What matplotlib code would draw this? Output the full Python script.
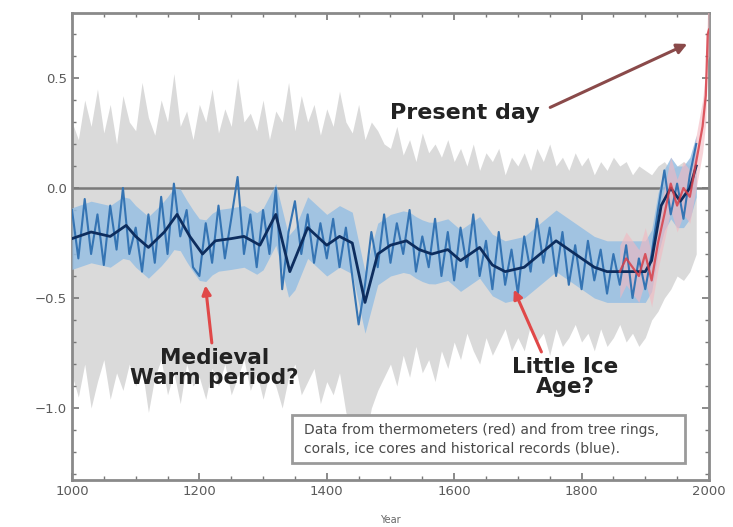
import numpy as np
import matplotlib.pyplot as plt
from matplotlib.ticker import MultipleLocator
from matplotlib.patches import Rectangle

# Reconstructed temperature anomaly (deg C)

# gray uncertainty band, every 10 years 1000-1980
band_years = np.arange(1000, 1981, 10)
gray_hi = [0.30, 0.22, 0.40, 0.28, 0.45, 0.25, 0.38, 0.20, 0.42, 0.30,
           0.26, 0.48, 0.32, 0.24, 0.40, 0.30, 0.52, 0.28, 0.35, 0.22,
           0.38, 0.30, 0.45, 0.25, 0.36, 0.28, 0.50, 0.30, 0.34, 0.26,
           0.40, 0.22, 0.35, 0.30, 0.48, 0.26, 0.42, 0.30, 0.38, 0.24,
           0.36, 0.28, 0.44, 0.30, 0.25, 0.38, 0.22, 0.30, 0.26, 0.20,
           0.18, 0.28, 0.15, 0.22, 0.12, 0.25, 0.16, 0.20, 0.14, 0.22,
           0.12, 0.18, 0.10, 0.20, 0.08, 0.16, 0.12, 0.18, 0.06, 0.14,
           0.10, 0.16, 0.08, 0.18, 0.12, 0.20, 0.10, 0.14, 0.08, 0.16,
           0.10, 0.14, 0.06, 0.12, 0.08, 0.14, 0.10, 0.12, 0.06, 0.10,
           0.08, 0.06, 0.10, 0.12, 0.08, 0.10, 0.12, 0.10, 0.14]
gray_lo = [-0.85, -0.95, -0.80, -1.00, -0.88, -0.78, -0.96, -0.84, -0.92, -0.80,
           -0.90, -0.82, -1.02, -0.86, -0.78, -0.94, -0.84, -0.98, -0.80, -0.90,
           -0.86, -0.96, -0.82, -0.90, -0.80, -0.94, -0.86, -0.78, -0.92, -0.84,
           -0.96, -0.84, -0.90, -1.00, -0.86, -0.80, -0.94, -0.88, -0.82, -0.98,
           -0.88, -0.94, -0.84, -1.02, -1.10, -1.20, -1.15, -1.00, -0.92, -0.86,
           -0.80, -0.90, -0.76, -0.86, -0.72, -0.84, -0.78, -0.88, -0.74, -0.82,
           -0.70, -0.78, -0.66, -0.74, -0.80, -0.68, -0.76, -0.70, -0.64, -0.74,
           -0.68, -0.74, -0.62, -0.70, -0.66, -0.76, -0.64, -0.72, -0.68, -0.62,
           -0.70, -0.66, -0.74, -0.64, -0.72, -0.68, -0.62, -0.70, -0.66, -0.72,
           -0.68, -0.60, -0.56, -0.50, -0.46, -0.40, -0.42, -0.38, -0.30]

# blue proxy record (annual-ish wiggles), every 10 years
blue_annual = [-0.10, -0.32, -0.05, -0.30, -0.12, -0.35, -0.08, -0.28, 0.00, -0.30,
               -0.18, -0.38, -0.12, -0.34, -0.04, -0.30, 0.02, -0.22, -0.10, -0.36,
               -0.40, -0.16, -0.34, -0.08, -0.32, -0.14, 0.05, -0.30, -0.12, -0.36,
               -0.10, -0.30, 0.00, -0.46, -0.20, -0.06, -0.30, -0.12, -0.34, -0.16,
               -0.32, -0.14, -0.36, -0.18, -0.40, -0.62, -0.44, -0.20, -0.36, -0.12,
               -0.34, -0.16, -0.30, -0.10, -0.38, -0.22, -0.36, -0.14, -0.40, -0.20,
               -0.42, -0.18, -0.36, -0.12, -0.40, -0.24, -0.46, -0.20, -0.44, -0.28,
               -0.48, -0.22, -0.38, -0.14, -0.34, -0.18, -0.40, -0.20, -0.44, -0.26,
               -0.46, -0.24, -0.42, -0.28, -0.48, -0.30, -0.44, -0.26, -0.50, -0.32,
               -0.46, -0.30, -0.10, 0.08, -0.12, 0.02, -0.14, 0.06, 0.20]

# smoothed proxy curve
smooth_years = [1000, 1030, 1060, 1085, 1100, 1120, 1145, 1165, 1185, 1205,
                1225, 1250, 1270, 1295, 1320, 1342, 1370, 1400, 1420, 1440,
                1460, 1480, 1500, 1525, 1545, 1565, 1590, 1610, 1640, 1660,
                1680, 1710, 1735, 1760, 1780, 1800, 1820, 1840, 1870, 1900,
                1910, 1925, 1940, 1955, 1970, 1980]
smooth_vals = [-0.23, -0.20, -0.22, -0.17, -0.22, -0.27, -0.20, -0.12, -0.22, -0.30,
               -0.24, -0.23, -0.22, -0.26, -0.12, -0.38, -0.18, -0.26, -0.22, -0.25,
               -0.52, -0.30, -0.26, -0.24, -0.28, -0.30, -0.28, -0.33, -0.27, -0.35,
               -0.38, -0.36, -0.30, -0.24, -0.28, -0.32, -0.36, -0.38, -0.38, -0.38,
               -0.33, -0.08, 0.00, -0.06, 0.00, 0.10]

# thermometer record (red)
red_years = [1860, 1870, 1880, 1890, 1900, 1910, 1920, 1930, 1940, 1950,
             1960, 1970, 1980, 1990, 1995, 1998, 2000]
red_vals = [-0.38, -0.32, -0.36, -0.40, -0.30, -0.42, -0.25, -0.12, 0.02, -0.08,
            0.00, -0.04, 0.12, 0.28, 0.42, 0.70, 0.72]

fig = plt.figure(figsize=(7.33, 5.27), dpi=100)
ax = fig.add_axes([0.0982, 0.0892, 0.869, 0.886])

ax.fill_between(band_years, gray_lo, gray_hi, color='#dadada', lw=0, zorder=1)
ax.axhline(0, color='#7a7a7a', lw=1.8, zorder=2)

sm = np.interp(band_years, smooth_years, smooth_vals)
ax.fill_between(band_years, sm - 0.14, sm + 0.14, color='#97bfe3', alpha=0.85, lw=0, zorder=3)
ax.plot(band_years, blue_annual, color='#3574b3', lw=1.5, zorder=4)
ax.plot(smooth_years, smooth_vals, color='#0d2d5e', lw=2.0, zorder=5)

rv = np.array(red_vals)
ax.fill_between(red_years, rv - 0.12, rv + 0.12, color='#f3b8c0', alpha=0.6, lw=0, zorder=3)
ax.plot(red_years, red_vals, color='#d8404a', lw=1.6, alpha=0.85, zorder=6)

# annotations
ax.annotate('Present day', xy=(1970, 0.66), xytext=(1617, 0.34),
            ha='center', va='center', fontsize=16, fontweight='bold', color='#222222',
            arrowprops=dict(arrowstyle='-|>', color='#8a4a4a', lw=2.2, mutation_scale=15,
                            relpos=(1.0, 0.55), shrinkA=6), zorder=8)
ax.annotate('Medieval\nWarm period?', xy=(1209, -0.43), xytext=(1224, -0.82),
            ha='center', va='center', fontsize=15.5, fontweight='bold', color='#222222',
            linespacing=1.0,
            arrowprops=dict(arrowstyle='-|>', color='#e04848', lw=2.2, mutation_scale=13,
                            shrinkA=2), zorder=8)
ax.annotate('Little Ice\nAge?', xy=(1692, -0.45), xytext=(1774, -0.86),
            ha='center', va='center', fontsize=15.5, fontweight='bold', color='#222222',
            linespacing=1.0,
            arrowprops=dict(arrowstyle='-|>', color='#e04848', lw=2.2, mutation_scale=13,
                            relpos=(0.3, 1.0), shrinkA=2), zorder=8)

# caption box
ax.add_patch(Rectangle((0.345, 0.036), 0.617, 0.103, transform=ax.transAxes,
                       fc='white', ec='#9a9a9a', lw=2.0, zorder=9))
ax.text(0.364, 0.0875, 'Data from thermometers (red) and from tree rings,\n'
        'corals, ice cores and historical records (blue).',
        transform=ax.transAxes, fontsize=10, color='#4a4a4a', va='center', ha='left',
        linespacing=1.45, zorder=10)

ax.set_xlim(1000, 2000)
ax.set_ylim(-1.327, 0.795)
ax.set_xticks([1000, 1200, 1400, 1600, 1800, 2000])
ax.set_yticks([-1.0, -0.5, 0.0, 0.5])
ax.xaxis.set_minor_locator(MultipleLocator(50))
ax.yaxis.set_minor_locator(MultipleLocator(0.1))
ax.tick_params(which='both', direction='in', top=True, right=True, colors='#777777',
               labelcolor='#5a5a5a', labelsize=9.5)
ax.tick_params(which='major', length=5, width=1.2)
ax.tick_params(which='minor', length=3, width=1.0)
for s in ax.spines.values():
    s.set_color('#8a8a8a')
    s.set_linewidth(2.0)
ax.set_xlabel('Year', fontsize=7, color='#666666', labelpad=12)

fig.savefig('out.png', dpi=100)
